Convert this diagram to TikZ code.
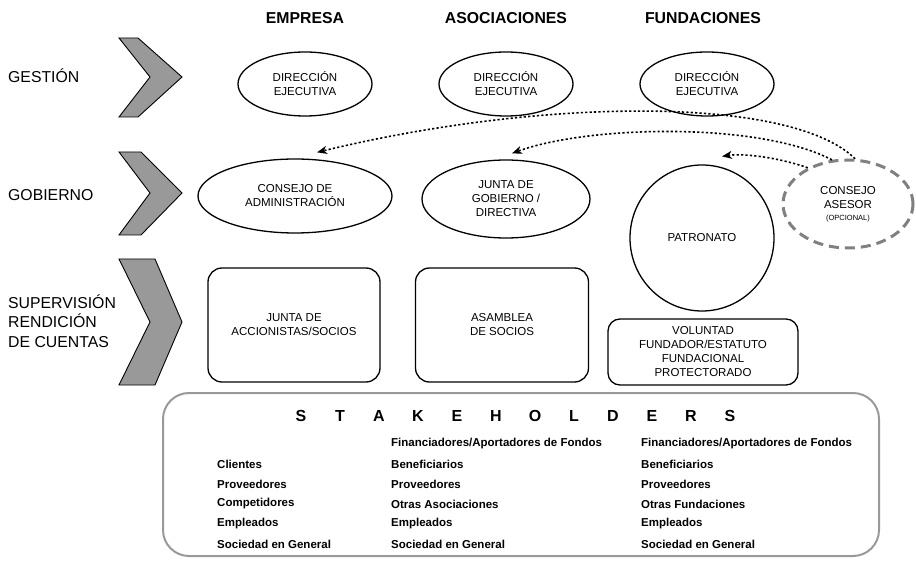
\documentclass[tikz,border=0pt]{standalone}
\usepackage{fontspec}
\setmainfont{Liberation Sans}
\usetikzlibrary{shapes.geometric,arrows.meta}
\definecolor{chevgray}{HTML}{999999}
\definecolor{asesorgray}{HTML}{808080}
\definecolor{skgray}{HTML}{999999}
\begin{document}
\begin{tikzpicture}[x=1pt,y=-1pt,
  lbl/.style={font=\fontsize{15.8}{19.5}\selectfont, align=left, anchor=west, inner sep=0pt},
  hdr/.style={font=\bfseries\fontsize{15.8}{18}\selectfont, inner sep=0pt},
  oval/.style={ellipse, draw, line width=1.3pt, inner sep=0pt, font=\fontsize{11.5}{14}\selectfont, align=center},
  rbox/.style={rectangle, rounded corners=14pt, draw, line width=1.3pt, inner sep=0pt, font=\fontsize{11.5}{14}\selectfont, align=center},
  chev/.style={fill=chevgray, draw=black, line width=0.9pt, line join=miter},
  dotarrow/.style={line width=1.6pt, dash pattern=on 2.2pt off 2.2pt, -{Stealth[length=10pt,width=8pt,inset=3pt]}},
  sk/.style={font=\bfseries\fontsize{11.5}{13}\selectfont, anchor=west, inner sep=0pt},
  sl/.style={font=\bfseries\fontsize{16}{18}\selectfont, inner sep=0pt}
]
\useasboundingbox (0,0) rectangle (916,561);

% chevrons
\draw[chev] (119,38) -- (138,38) -- (182,77) -- (138,117) -- (119,117) -- (150,77) -- cycle;
\draw[chev] (119,152) -- (141,152) -- (182,193) -- (141,235) -- (119,235) -- (150,193) -- cycle;
\draw[chev] (119,259) -- (155,259) -- (182,322) -- (155,385) -- (119,385) -- (150,322) -- cycle;

% left labels
\node[lbl] (gest) at (8,76) {GESTIÓN};
\node[lbl] (gob) at (8,195) {GOBIERNO};
\node[lbl] (sup) at (8,321) {SUPERVISIÓN\\RENDICIÓN\\DE CUENTAS};

% headers
\node[hdr] (hemp) at (305,18) {EMPRESA};
\node[hdr] (haso) at (506,18) {ASOCIACIONES};
\node[hdr] (hfun) at (703,18) {FUNDACIONES};

% row 1
\node[oval, minimum width=134pt, minimum height=64pt] (de1) at (305,84) {DIRECCIÓN\\EJECUTIVA};
\node[oval, minimum width=134pt, minimum height=64pt] (de2) at (506,84) {DIRECCIÓN\\EJECUTIVA};
\node[oval, minimum width=134pt, minimum height=64pt] (de3) at (707,84) {DIRECCIÓN\\EJECUTIVA};

% row 2
\node[oval, minimum width=194pt, minimum height=74pt] (consejo) at (295,196) {CONSEJO DE\\ADMINISTRACIÓN};
\node[oval, minimum width=168pt, minimum height=78pt] (junta) at (506,199) {JUNTA DE\\GOBIERNO /\\DIRECTIVA};
\node[oval, minimum width=144pt, minimum height=146pt] (patronato) at (702,238) {PATRONATO};
\node[ellipse, draw=asesorgray, line width=3pt, dash pattern=on 10pt off 6pt, inner sep=0pt,
      minimum width=130pt, minimum height=88pt, align=center, font=\fontsize{11.5}{14}\selectfont]
      (asesor) at (848,204) {CONSEJO\\ASESOR\\[-2pt]{\fontsize{7.5}{9}\selectfont (OPCIONAL)}};

% row 3
\node[rbox, minimum width=172pt, minimum height=114pt] (accion) at (294,325) {JUNTA DE\\ACCIONISTAS/SOCIOS};
\node[rbox, minimum width=173pt, minimum height=114pt] (asamblea) at (502,325) {ASAMBLEA\\DE SOCIOS};
\node[rbox, rounded corners=12pt, minimum width=190pt, minimum height=66pt] (voluntad) at (703,352)
      {VOLUNTAD\\FUNDADOR/ESTATUTO\\FUNDACIONAL\\PROTECTORADO};

% dotted arrows
\draw[dotarrow] (asesor.81) .. controls (790,95) and (540,98) .. ([shift={(22,-6)}]consejo.north);
\draw[dotarrow] (asesor.110) .. controls (760,122) and (590,125) .. ([shift={(6,-6)}]junta.north);
\draw[dotarrow] (asesor.138) .. controls (780,158) and (745,153) .. ([shift={(20,-8)}]patronato.north);

% stakeholders box
\node[draw=skgray, line width=2pt, rounded corners=26pt, minimum width=716pt, minimum height=163pt, inner sep=0pt] (skbox) at (521,474.5) {};
\foreach \l [count=\i from 0] in {S,T,A,K,E,H,O,L,D,E,R,S}
  \node[sl] (st\i) at (301+39*\i,416) {\l};

\foreach \t [count=\i from 1] in {Clientes,Proveedores,Competidores,Empleados,Sociedad en General}
  \node[sk] (ca\i) at (217,444+20*\i) {\t};
\foreach \t [count=\i from 0] in {Financiadores/Aportadores de Fondos,Beneficiarios,Proveedores,Otras Asociaciones,Empleados,Sociedad en General}
  \node[sk] (cb\i) at (391,444+20*\i) {\t};
\foreach \t [count=\i from 0] in {Financiadores/Aportadores de Fondos,Beneficiarios,Proveedores,Otras Fundaciones,Empleados,Sociedad en General}
  \node[sk] (cc\i) at (641,444+20*\i) {\t};
\end{tikzpicture}
\end{document}
